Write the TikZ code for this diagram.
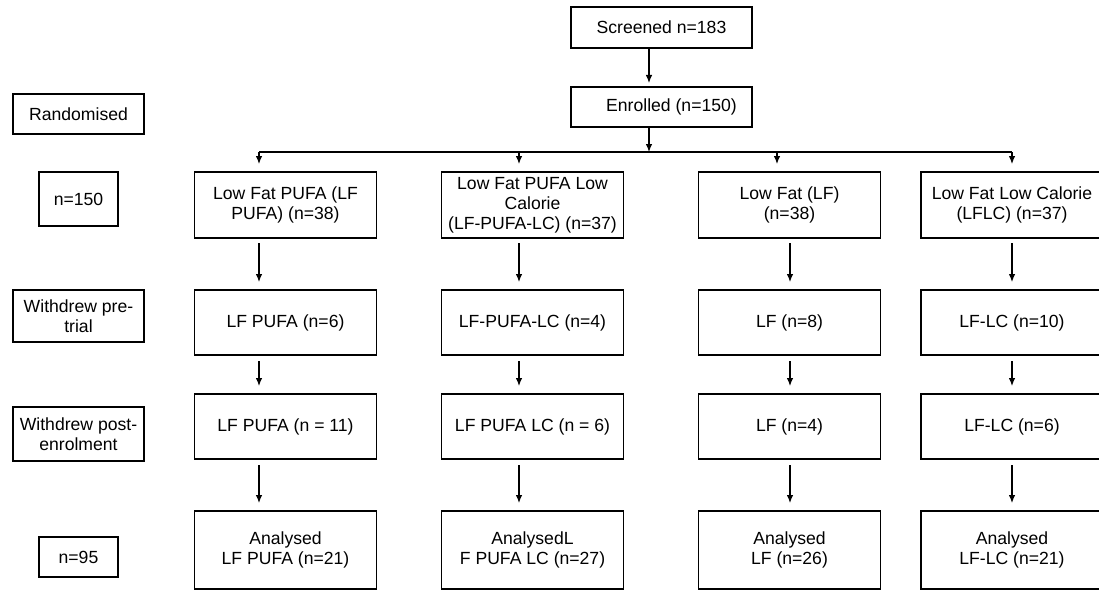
\documentclass[tikz,border=0pt]{standalone}
\usepackage{fontspec}
\setmainfont{Liberation Sans}
\usetikzlibrary{arrows.meta,positioning}
\tikzset{
  basic/.style = {draw, rectangle, line width=1.5pt, align=center, inner sep=2pt,
                  outer sep=0pt, font=\fontsize{17.6}{20}\selectfont},
  side/.style  = {basic, minimum width=131pt},
  count/.style = {basic, minimum width=79pt},
  head/.style  = {basic, minimum width=181pt, minimum height=41pt},
  arm/.style   = {basic, minimum width=182pt, minimum height=66pt},
  drop/.style  = {basic, minimum width=182pt, minimum height=65pt},
  final/.style = {basic, minimum width=182pt, minimum height=78pt}
}
\begin{document}
\begin{tikzpicture}[x=1pt, y=-1pt, >={Latex[length=8pt,width=6.5pt]}, line width=1.1pt]
\useasboundingbox (0,0) rectangle (1099,591);

% screening and enrolment
\node[head] (scr) at (661.5,27.5) {Screened n=183};
\node[head, below=39pt of scr, minimum height=40pt] (enr) {\hspace*{20pt}Enrolled (n=150)};

% the four arms, first row placed on the page, the rest below them
\node[arm] (c1) at (285.5,205) {Low Fat PUFA (LF\\PUFA) (n=38)};
\node[arm, right=65pt of c1] (c2) {Low Fat PUFA Low\\Calorie\\(LF-PUFA-LC) (n=37)};
\node[arm, right=75pt of c2] (c3) {Low Fat (LF)\\(n=38)};
\node[arm, right=40.5pt of c3] (c4) {Low Fat Low Calorie\\(LFLC) (n=37)};

\node[drop, below=52pt of c1] (c11) {LF PUFA (n=6)};
\node[drop, below=52pt of c2] (c21) {LF-PUFA-LC (n=4)};
\node[drop, below=52pt of c3] (c31) {LF (n=8)};
\node[drop, below=52pt of c4] (c41) {LF-LC (n=10)};

\node[drop, below=39pt of c11] (c12) {LF PUFA (n = 11)};
\node[drop, below=39pt of c21] (c22) {LF PUFA LC (n = 6)};
\node[drop, below=39pt of c31] (c32) {LF (n=4)};
\node[drop, below=39pt of c41] (c42) {LF-LC (n=6)};

\node[final, below=52pt of c12] (c13) {Analysed\\LF PUFA (n=21)};
\node[final, below=52pt of c22] (c23) {AnalysedL\\F PUFA LC (n=27)};
\node[final, below=52pt of c32] (c33) {Analysed\\LF (n=26)};
\node[final, below=52pt of c42] (c43) {Analysed\\LF-LC (n=21)};

% row labels on the left
\node[side, minimum height=40pt] (l1) at (78.5,114) {Randomised};
\node[count, minimum height=54pt] (l2) at (78.5,199) {n=150};
\node[side, minimum height=52pt] (l3) at (78.5,316) {Withdrew pre-\\trial};
\node[side, minimum height=54pt] (l4) at (78.5,434) {Withdrew post-\\enrolment};
\node[count, minimum height=40pt] (l5) at (78.5,557) {n=95};

% connectors
\coordinate (bus) at (649,152);
\coordinate (k1) at (259,152);
\coordinate (k2) at (519,152);
\coordinate (k3) at (777,152);
\coordinate (k4) at (1012,152);
\coordinate (m1) at (259,0);
\coordinate (m2) at (519,0);
\coordinate (m3) at (790,0);
\coordinate (m4) at (1012,0);

\draw[->, shorten >=4pt] (scr.south -| bus) -- (enr.north -| bus);
\draw[->] (enr.south -| bus) -- (bus);
\draw (k1) -- (k4);

\foreach \c in {1,...,4}
  \draw[->, shorten >=8pt] (k\c) -- (c\c.north -| k\c);

\foreach \c in {1,...,4} {
  \draw[->, shorten <=5pt, shorten >=8pt] (c\c.south -| m\c) -- (c\c1.north -| m\c);
  \draw[->, shorten <=6pt, shorten >=8pt] (c\c1.south -| m\c) -- (c\c2.north -| m\c);
  \draw[->, shorten <=6pt, shorten >=8pt] (c\c2.south -| m\c) -- (c\c3.north -| m\c);
}
\end{tikzpicture}
\end{document}
